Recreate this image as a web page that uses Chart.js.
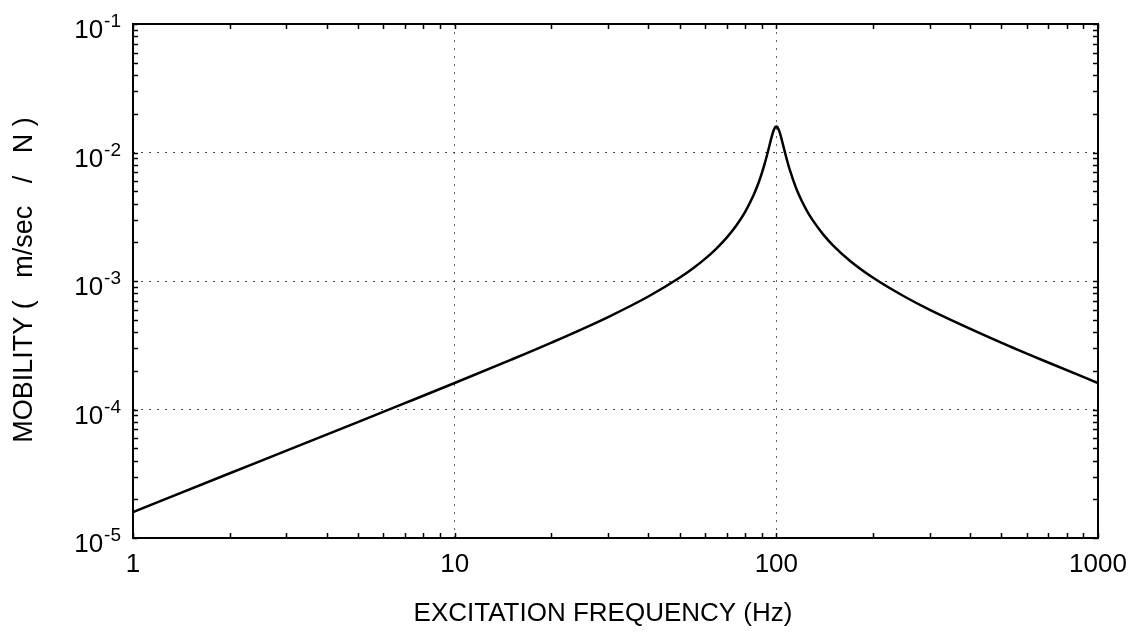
<!DOCTYPE html>
<html><head><meta charset="utf-8">
<script src="https://cdn.jsdelivr.net/npm/chart.js@4/dist/chart.umd.min.js"></script>
<style>html,body{margin:0;padding:0;background:#fff;overflow:hidden}#wrap{width:1137px;height:639px}</style>
</head><body><div id="wrap"><canvas id="c" width="1137" height="639"></canvas></div>
<script>
// Excitation frequency (Hz) and mobility (m/sec / N)
const frequencies = [1, 2, 3, 5, 7, 10, 15, 20, 30, 40, 50, 55, 60, 65, 70, 75, 80, 85, 88, 90, 92, 94, 96, 97, 98, 99, 99.5, 100, 100.5, 101, 102, 103, 104, 106, 108, 110, 115, 120, 125, 130, 140, 150, 170, 200, 250, 300, 500, 700, 1000];
const mobility = [1.59e-5, 3.19e-5, 4.78e-5, 7.98e-5, 1.12e-4, 1.608e-4, 2.443e-4, 3.316e-4, 5.245e-4, 7.572e-4, 1.059e-3, 1.251e-3, 1.486e-3, 1.781e-3, 2.165e-3, 2.690e-3, 3.454e-3, 4.663e-3, 5.785e-3, 6.815e-3, 8.180e-3, 1.000e-2, 1.233e-2, 1.360e-2, 1.476e-2, 1.561e-2, 1.584e-2, 1.592e-2, 1.584e-2, 1.561e-2, 1.480e-2, 1.370e-2, 1.252e-2, 1.036e-2, 8.667e-3, 7.387e-3, 5.347e-3, 4.189e-3, 3.454e-3, 2.948e-3, 2.297e-3, 1.897e-3, 1.426e-3, 1.059e-3, 7.572e-4, 5.966e-4, 3.316e-4, 2.321e-4, 1.608e-4];

const xTickValues = [1, 10, 100, 1000];
const xTickLabels = ['1', '10', '100', '1000'];
const yTickValues = [1e-1, 1e-2, 1e-3, 1e-4, 1e-5];
const yTickBase = '10';
const yTickExponents = ['-1', '-2', '-3', '-4', '-5'];
const xTitle = 'EXCITATION FREQUENCY (Hz)';
const yTitle = 'MOBILITY (   m/sec   /   N )';

const FONT = '"Liberation Sans", Arial, Helvetica, sans-serif';

function decadeTicks(min, max) {
  const out = [];
  for (let d = Math.round(Math.log10(min)); Math.pow(10, d) <= max * 1.0001; d++) {
    const b = Math.pow(10, d);
    for (let m = 1; m <= 9; m++) {
      const v = m * b;
      if (v >= min * 0.9999 && v <= max * 1.0001) out.push(+v.toPrecision(6));
    }
  }
  return out;
}
function isMajor(v) {
  const l = Math.log10(v);
  return Math.abs(l - Math.round(l)) < 1e-6;
}

const framePlugin = {
  id: 'frame',
  afterDraw(chart) {
    const ctx = chart.ctx;
    const a = chart.chartArea;
    const xs = chart.scales.x, ys = chart.scales.y;
    ctx.save();
    ctx.strokeStyle = '#000';
    ctx.lineWidth = 1.5;
    const tl = 5;
    ctx.beginPath();
    xs.ticks.forEach(t => {
      const px = Math.round(xs.getPixelForValue(t.value)) + 0.5;
      ctx.moveTo(px, a.bottom); ctx.lineTo(px, a.bottom - tl);
      ctx.moveTo(px, a.top); ctx.lineTo(px, a.top + tl);
    });
    ys.ticks.forEach(t => {
      const py = Math.round(ys.getPixelForValue(t.value)) + 0.5;
      ctx.moveTo(a.left, py); ctx.lineTo(a.left + tl, py);
      ctx.moveTo(a.right, py); ctx.lineTo(a.right - tl, py);
    });
    ctx.stroke();
    ctx.lineWidth = 2;
    ctx.strokeRect(a.left, a.top, a.right - a.left, a.bottom - a.top);

    ctx.fillStyle = '#000';
    ctx.font = '26px ' + FONT;
    ctx.textAlign = 'center';
    ctx.textBaseline = 'alphabetic';
    xTickValues.forEach((v, i) => {
      ctx.fillText(xTickLabels[i], xs.getPixelForValue(v), a.bottom + 34);
    });
    yTickValues.forEach((v, i) => {
      const py = ys.getPixelForValue(v);
      const right = a.left - 12;
      ctx.font = '19px ' + FONT;
      ctx.textAlign = 'right';
      ctx.fillText(yTickExponents[i], right, py + 3);
      const ew = ctx.measureText(yTickExponents[i]).width;
      ctx.font = '26px ' + FONT;
      ctx.fillText(yTickBase, right - ew - 1, py + 14);
    });
    ctx.font = '26px ' + FONT;
    ctx.textAlign = 'center';
    ctx.fillText(xTitle, 603, 621);
    ctx.save();
    ctx.translate(32, 280);
    ctx.rotate(-Math.PI / 2);
    ctx.font = '27px ' + FONT;
    ctx.fillText(yTitle, 0, 0);
    ctx.restore();
    ctx.restore();
  }
};

new Chart(document.getElementById('c'), {
  type: 'line',
  data: {
    datasets: [{
      data: frequencies.map((f, i) => ({ x: f, y: mobility[i] })),
      borderColor: '#000',
      borderWidth: 2.5,
      pointRadius: 0,
      fill: false,
      cubicInterpolationMode: 'monotone'
    }]
  },
  options: {
    responsive: false,
    devicePixelRatio: 1,
    animation: false,
    events: [],
    layout: { padding: { top: 24, right: 39, left: 0, bottom: 0 } },
    plugins: { legend: { display: false }, tooltip: { enabled: false } },
    scales: {
      x: {
        type: 'logarithmic', position: 'bottom', min: 1, max: 1000,
        afterBuildTicks: s => { s.ticks = decadeTicks(1, 1000).map(v => ({ value: v, major: isMajor(v) })); },
        afterFit: s => { s.height = 101; },
        ticks: { display: false, autoSkip: false },
        grid: { drawTicks: false, lineWidth: 1, color: c => (c.tick && isMajor(c.tick.value)) ? '#666' : 'rgba(0,0,0,0)' },
        border: { display: false, dash: [2, 6] }
      },
      y: {
        type: 'logarithmic', position: 'left', min: 1e-5, max: 1e-1,
        afterBuildTicks: s => { s.ticks = decadeTicks(1e-5, 1e-1).map(v => ({ value: v, major: isMajor(v) })); },
        afterFit: s => { s.width = 133; },
        ticks: { display: false, autoSkip: false },
        grid: { drawTicks: false, lineWidth: 1, color: c => (c.tick && isMajor(c.tick.value)) ? '#444' : 'rgba(0,0,0,0)' },
        border: { display: false, dash: [2, 6] }
      }
    }
  },
  plugins: [framePlugin]
});
</script></body></html>
